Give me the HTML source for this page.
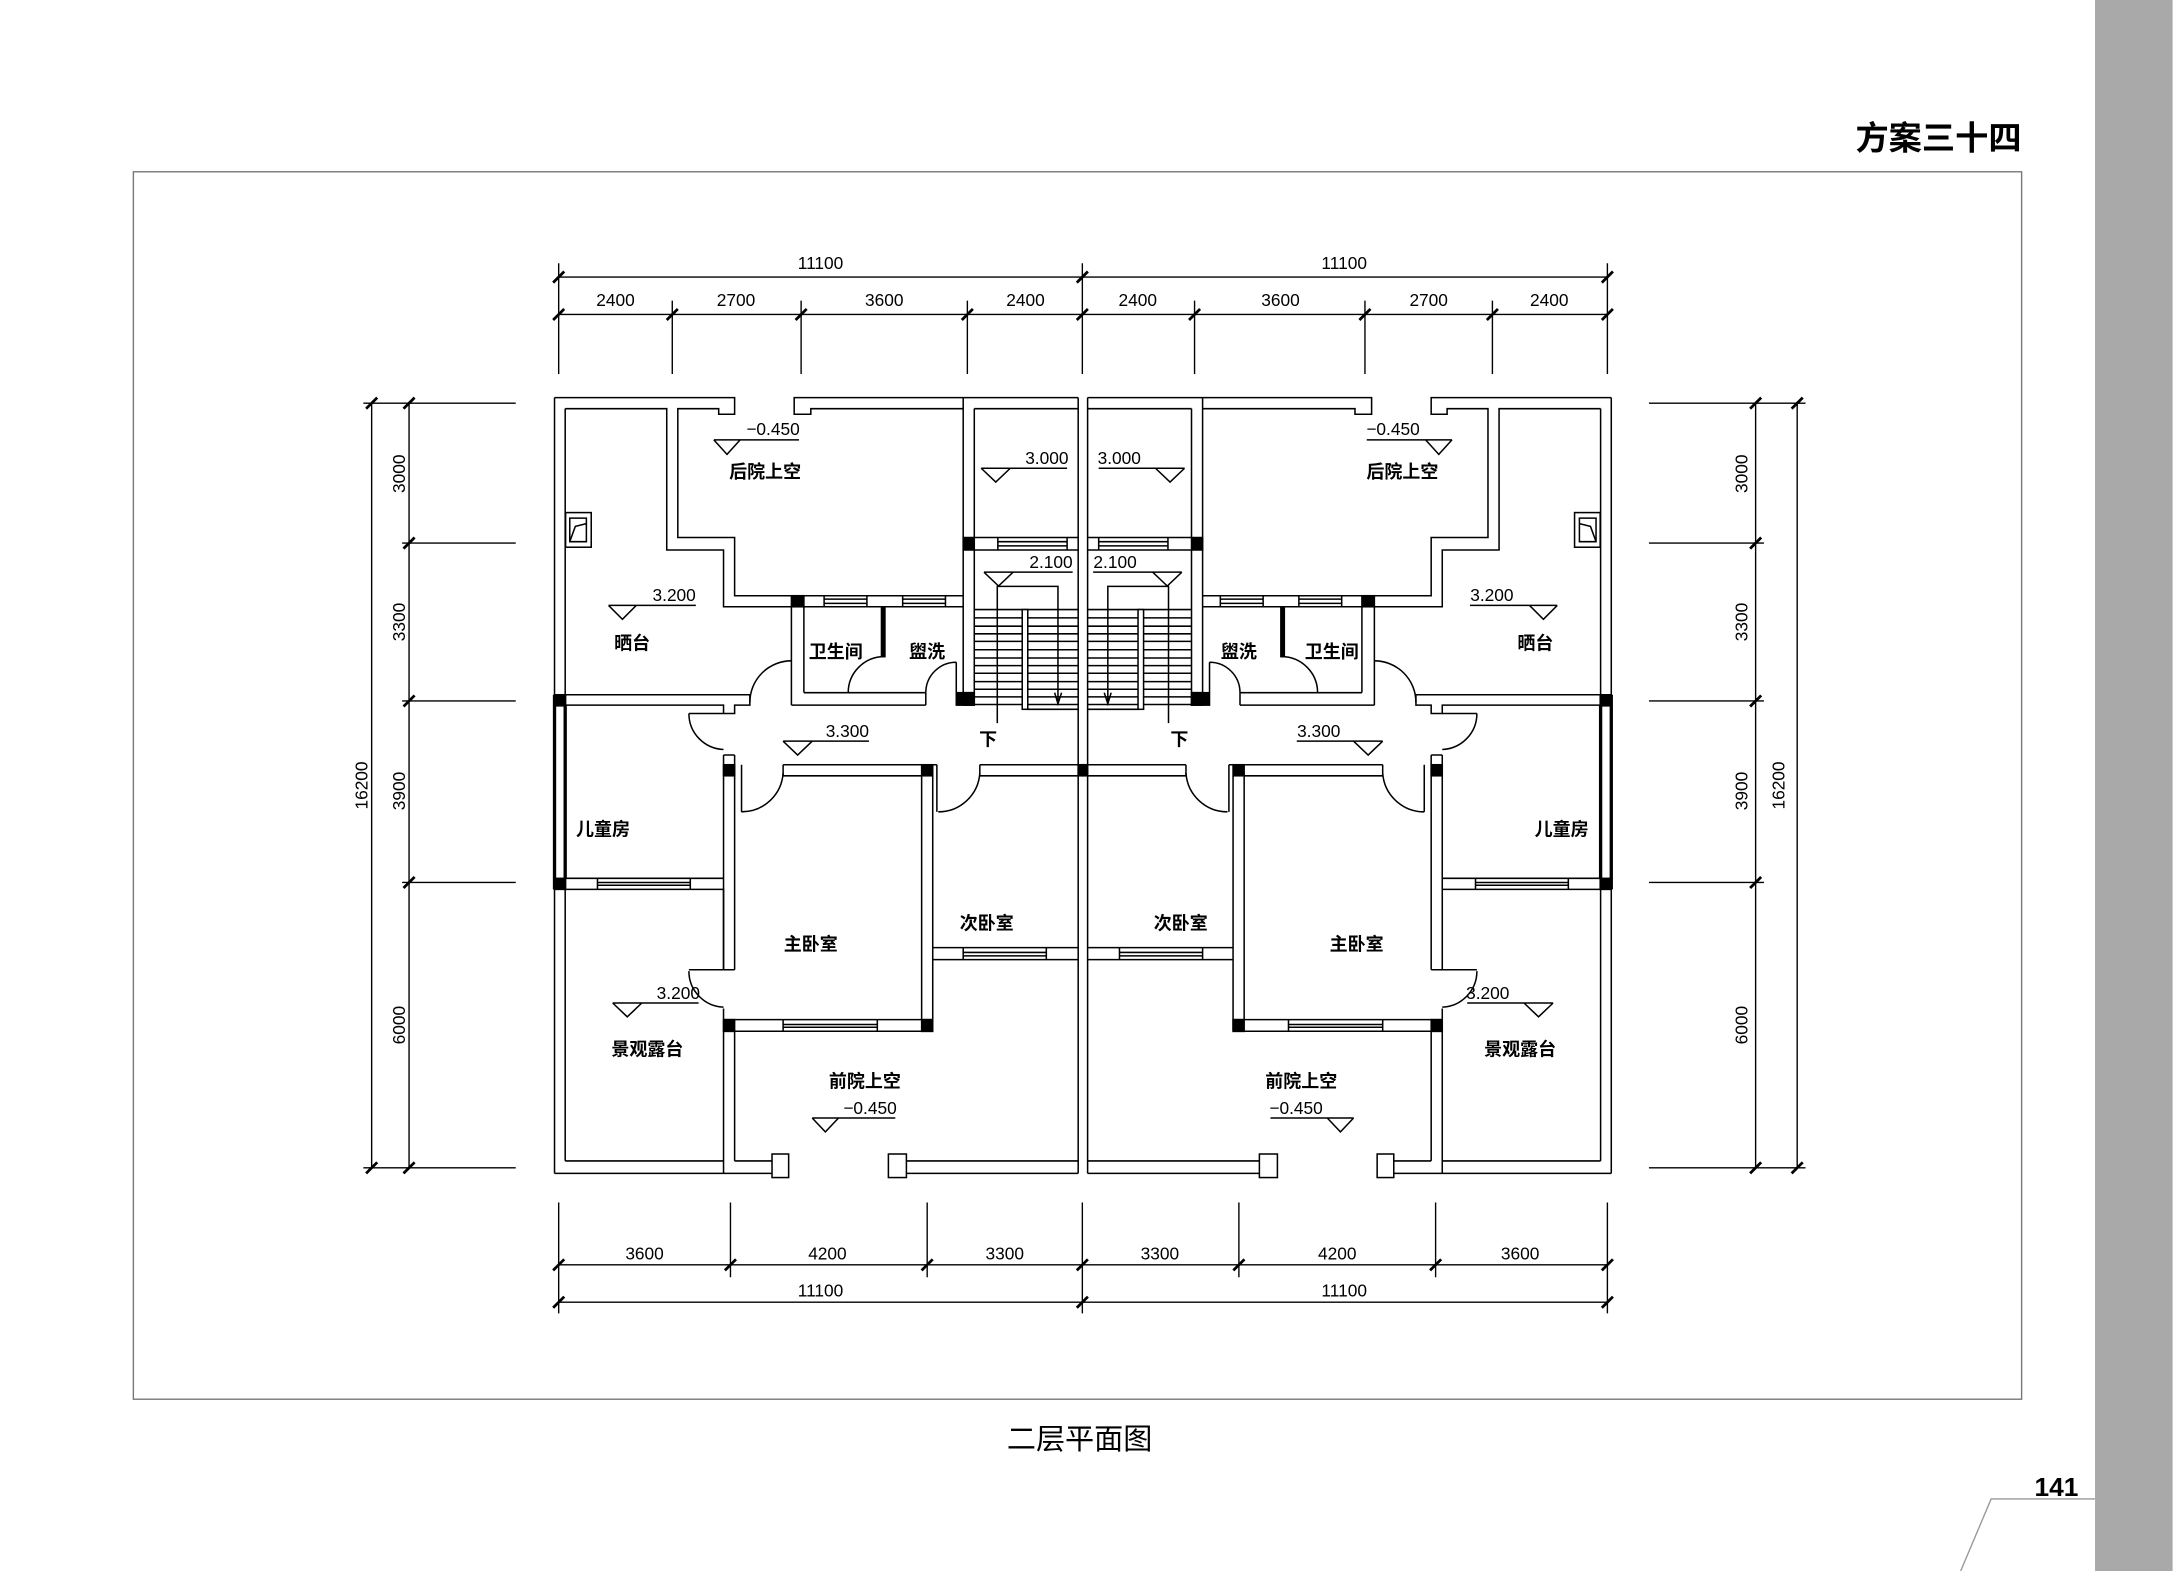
<!DOCTYPE html>
<html><head><meta charset="utf-8">
<style>
html,body{margin:0;padding:0;background:#fff;}
svg{display:block;}
text{font-family:"Liberation Sans","Noto Sans CJK SC",sans-serif;fill:#000;}
.n{font-size:12.5px;}
.c{font-size:13px;font-weight:bold;}
</style></head><body>
<svg width="2173" height="1571" viewBox="0 0 1568 1134" xmlns="http://www.w3.org/2000/svg">
<rect x="0" y="0" width="1568" height="1134" fill="#fff"/>
<rect x="1512" y="0" width="56" height="1134" fill="#a9a9a9"/>
<text x="1459" y="108" font-size="24" font-weight="bold" text-anchor="end">方案三十四</text>
<rect x="96" y="124" width="1363" height="886" fill="none" stroke="#777" stroke-width="1"/>
<text x="779" y="1046" font-size="21" text-anchor="middle">二层平面图</text>
<text x="1500" y="1080" font-size="19" font-weight="bold" text-anchor="end">141</text>
<path d="M1512 1082H1437L1415 1134" fill="none" stroke="#999" stroke-width="1"/>

<!-- dimensions -->
<g fill="none" stroke="#000" stroke-width="1">
<path d="M403 200H1160M403 227H1160"/>
<path d="M403 190V270M781 190V270M1160 190V270"/>
<path d="M485 217V270M578 217V270M698 217V270M862 217V270M985 217V270M1077 217V270"/>
<path d="M403 913H1160M403 940H1160"/>
<path d="M403 868V948M781 868V948M1160 868V948"/>
<path d="M527 868V922M669 868V922M894 868V922M1036 868V922"/>
<path d="M268 290V843M295 290V843"/>
<path d="M262 291H372M262 843H372M290 392H372M290 506H372M290 637H372"/>
<path d="M1267 290V843M1297 290V843"/>
<path d="M1190 291H1303M1190 843H1303M1190 392H1273M1190 506H1273M1190 637H1273"/>
</g>
<g stroke="#000" stroke-width="2">
<path d="M399 204l8 -8M777 204l8 -8M1156 204l8 -8"/>
<path d="M399 231l8 -8M481 231l8 -8M574 231l8 -8M694 231l8 -8M777 231l8 -8M858 231l8 -8M981 231l8 -8M1073 231l8 -8M1156 231l8 -8"/>
<path d="M399 917l8 -8M523 917l8 -8M665 917l8 -8M777 917l8 -8M890 917l8 -8M1032 917l8 -8M1156 917l8 -8"/>
<path d="M399 944l8 -8M777 944l8 -8M1156 944l8 -8"/>
<path d="M264 295l8 -8M264 847l8 -8M291 295l8 -8M291 396l8 -8M291 510l8 -8M291 641l8 -8M291 847l8 -8"/>
<path d="M1263 295l8 -8M1263 396l8 -8M1263 510l8 -8M1263 641l8 -8M1263 847l8 -8M1293 295l8 -8M1293 847l8 -8"/>
</g>
<g class="n" text-anchor="middle">
<text x="592" y="194">11100</text><text x="970" y="194">11100</text>
<text x="444" y="221">2400</text><text x="531" y="221">2700</text><text x="638" y="221">3600</text><text x="740" y="221">2400</text>
<text x="821" y="221">2400</text><text x="924" y="221">3600</text><text x="1031" y="221">2700</text><text x="1118" y="221">2400</text>
<text x="465" y="909">3600</text><text x="597" y="909">4200</text><text x="725" y="909">3300</text>
<text x="837" y="909">3300</text><text x="965" y="909">4200</text><text x="1097" y="909">3600</text>
<text x="592" y="936">11100</text><text x="970" y="936">11100</text>
<text transform="translate(292,342) rotate(-90)">3000</text>
<text transform="translate(292,449) rotate(-90)">3300</text>
<text transform="translate(292,571) rotate(-90)">3900</text>
<text transform="translate(292,740) rotate(-90)">6000</text>
<text transform="translate(265,567) rotate(-90)">16200</text>
<text transform="translate(1261,342) rotate(-90)">3000</text>
<text transform="translate(1261,449) rotate(-90)">3300</text>
<text transform="translate(1261,571) rotate(-90)">3900</text>
<text transform="translate(1261,740) rotate(-90)">6000</text>
<text transform="translate(1288,567) rotate(-90)">16200</text>
</g>

<defs>
<g id="half" fill="none" stroke="#000" stroke-width="1.1">
<!-- outer left wall -->
<path d="M400 287V847M407.7 295V501.5M407.7 509V634M407.7 642V838"/>
<path d="M400 501.5V642M407.7 509V634" stroke-width="2.4"/>
<rect x="400" y="501.5" width="8" height="8" fill="#000"/>
<rect x="400" y="634" width="8" height="8" fill="#000"/>
<!-- top wall / back yard -->
<path d="M400 287H530V299H518.5V295H489V388H530V430H571"/>
<path d="M407.7 295H481V397H522V438H571"/>
<path d="M695 287H573V299H585V295H695"/>
<path d="M695 287H778M703 295H778"/>
<!-- flue -->
<rect x="408" y="370" width="18.5" height="25"/>
<path d="M411 374H423V391H411ZM411 391L415 380L423 378"/>
<!-- stair walls -->
<path d="M695 287V509M703 295V388M703 397V500"/>
<rect x="695" y="388" width="8" height="9" fill="#000"/>
<rect x="695" y="500" width="8" height="9" fill="#000"/>
<path d="M703 388H778M703 397H778M720 391H770M720 394H770M720 388V397M770 388V397"/>
<!-- stair treads -->
<path d="M703 440H778M703 446H778M703 452H778M703 457.5H778M703 463H778M703 469H778M703 475H778M703 480.5H778M703 486H778M703 492H778M703 497.5H778M703 503H778M703 508.5H778"/>
<rect x="737.6" y="440" width="4" height="72" fill="#fff"/>
<path d="M741.5 512H778"/>
<path d="M719.6 522V423.3H763.4V507.5M761 500L763.4 508L766 500"/>
<!-- bath -->
<path d="M571 430H695M580 438H695"/>
<rect x="571" y="430" width="9" height="8" fill="#000"/>
<path d="M594.6 432.5H625.5M594.6 435.5H625.5M594.6 430V438M625.5 430V438M651.3 432.5H682.2M651.3 435.5H682.2M651.3 430V438M682.2 430V438"/>
<path d="M571 438V509M580 438V500M580 500H668M571 509H668M668 500V509"/>
<rect x="690" y="500" width="13" height="9" fill="#000"/>
<rect x="636" y="438" width="2.5" height="36" fill="#000"/>
<path d="M638 474A26 26 0 0 0 612 500"/>
<path d="M690 500V478M690 478A22 22 0 0 0 668 500"/>
<!-- sun deck wall -->
<path d="M407.7 501.5H541V509H530V515H522V509H407.7"/>
<path d="M571 477A30 30 0 0 0 541 507"/>
<!-- children room -->
<path d="M522 515H497M497 515A26 26 0 0 0 522 541"/>
<path d="M522 545V700M530 545V700M522 545H530"/>
<rect x="522" y="552" width="8" height="8" fill="#000"/>
<!-- master -->
<path d="M535 552V586M535 586A30 30 0 0 0 565 558"/>
<path d="M565 552H676M565 560H665M565 552V560"/>
<rect x="665" y="552" width="8" height="8" fill="#000"/>
<path d="M676 552V586M673 560V744M665 560V736"/>
<path d="M677 586A30 30 0 0 0 707 558"/>
<path d="M707 552H778M707 560H778M707 552V560"/>
<rect x="778" y="552" width="4" height="8" fill="#000"/>
<path d="M673 684H778M673 692.7H778M695 687.5H755M695 690H755M695 684V692.7M755 684V692.7"/>
<path d="M522 736H673M530 744.4H673M565 739.5H633M565 741.5H633M565 736V744.4M633 736V744.4"/>
<rect x="522" y="736" width="8" height="8.5" fill="#000"/>
<rect x="665" y="736" width="8" height="8.5" fill="#000"/>
<!-- children bottom -->
<path d="M407.7 634H522M407.7 642H522V700M431 637H498M431 639H498M431 634V642M498 634V642"/>
<!-- terrace door -->
<path d="M497 700H530M497 701A26 26 0 0 0 522 727"/>
<path d="M522 728V847M530 744V838"/>
<path d="M407.7 838H522"/>
<path d="M400 847H557M530 838H557"/>
<rect x="557" y="833" width="12" height="17" fill="#fff"/>
<rect x="641" y="833" width="13" height="17" fill="#fff"/>
<path d="M654 838H778M654 847H778"/>
<path d="M778 287V847"/>
<!-- elevation markers -->
<path d="M515 317.5H576.5M515 317.5L524.5 328L534 317.5"/>
<path d="M708 338H770M708 338L718.5 348L729 338"/>
<path d="M710 413H774M710 413L720.5 423L731 413"/>
<path d="M439 437H502M439 437L449 447L459 437"/>
<path d="M565 535H627M565 535L575.5 545L586 535"/>
<path d="M442 724H504M442 724L452.5 734L463 724"/>
<path d="M586 807H646M586 807L595.5 817L605 807"/>
</g>
</defs>
<use href="#half"/>
<use href="#half" transform="translate(1562.8,0) scale(-1,1)"/>

<!-- left labels -->
<g class="n" text-anchor="end">
<text x="577" y="314">−0.450</text>
<text x="771" y="335">3.000</text>
<text x="774" y="410">2.100</text>
<text x="502" y="434">3.200</text>
<text x="627" y="532">3.300</text>
<text x="505" y="721">3.200</text>
<text x="647" y="804">−0.450</text>
</g>
<g class="n" text-anchor="start">
<text x="986" y="314">−0.450</text>
<text x="792" y="335">3.000</text>
<text x="789" y="410">2.100</text>
<text x="1061" y="434">3.200</text>
<text x="936" y="532">3.300</text>
<text x="1058" y="721">3.200</text>
<text x="916" y="804">−0.450</text>
</g>
<g class="c" text-anchor="middle">
<text x="552" y="345">后院上空</text>
<text x="456" y="469">晒台</text>
<text x="603" y="475">卫生间</text>
<text x="669" y="475">盥洗</text>
<text x="713" y="538">下</text>
<text x="435" y="603">儿童房</text>
<text x="585" y="686">主卧室</text>
<text x="712" y="671">次卧室</text>
<text x="467" y="762">景观露台</text>
<text x="624" y="785">前院上空</text>
<text x="1012" y="345">后院上空</text>
<text x="1108" y="469">晒台</text>
<text x="961" y="475">卫生间</text>
<text x="894" y="475">盥洗</text>
<text x="851" y="538">下</text>
<text x="1127" y="603">儿童房</text>
<text x="979" y="686">主卧室</text>
<text x="852" y="671">次卧室</text>
<text x="1097" y="762">景观露台</text>
<text x="939" y="785">前院上空</text>
</g>
</svg>
</body></html>
